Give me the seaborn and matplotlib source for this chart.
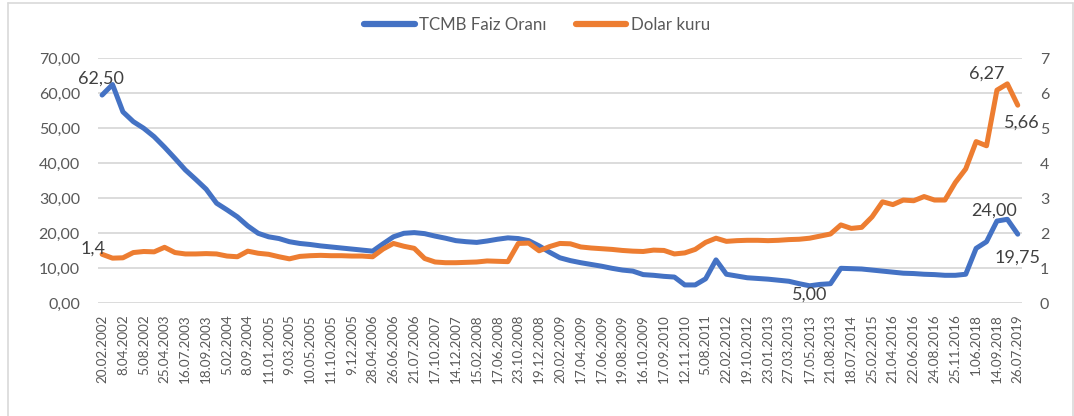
import matplotlib
matplotlib.use("Agg")
import matplotlib.pyplot as plt
from matplotlib.lines import Line2D
from matplotlib.ticker import FuncFormatter
import seaborn as sns

# values, one per rate decision (labels on every 2nd point)
faiz = [59.5, 62.5, 54.7, 51.9, 50.0, 47.6, 44.6, 41.4, 38.1, 35.4,
        32.6, 28.6, 26.7, 24.7, 22.1, 20.0, 19.0, 18.5, 17.6, 17.1,
        16.8, 16.4, 16.1, 15.8, 15.5, 15.2, 14.9, 17.0, 19.0, 20.0,
        20.2, 19.9, 19.2, 18.6, 17.9, 17.6, 17.4, 17.8, 18.3, 18.7,
        18.5, 17.9, 16.4, 14.6, 13.0, 12.2, 11.6, 11.1, 10.6, 10.0,
        9.5, 9.2, 8.2, 8.0, 7.7, 7.5, 5.25, 5.25, 7.0, 12.4,
        8.3, 7.8, 7.3, 7.1, 6.9, 6.6, 6.3, 5.6, 5.0, 5.4,
        5.6, 10.0, 9.9, 9.8, 9.5, 9.2, 8.9, 8.6, 8.5, 8.3,
        8.2, 8.0, 8.0, 8.3, 15.7, 17.6, 23.5, 24.0, 19.75]

dolar = [1.40, 1.29, 1.30, 1.45, 1.48, 1.47, 1.60, 1.45, 1.41, 1.41,
         1.42, 1.41, 1.35, 1.33, 1.49, 1.43, 1.40, 1.33, 1.27, 1.34,
         1.36, 1.37, 1.36, 1.36, 1.35, 1.35, 1.33, 1.55, 1.71, 1.63,
         1.57, 1.28, 1.18, 1.16, 1.16, 1.17, 1.18, 1.21, 1.20, 1.19,
         1.71, 1.72, 1.50, 1.62, 1.71, 1.70, 1.61, 1.58, 1.56, 1.54,
         1.51, 1.49, 1.48, 1.52, 1.51, 1.41, 1.44, 1.54, 1.74, 1.86,
         1.77, 1.79, 1.80, 1.80, 1.79, 1.80, 1.82, 1.83, 1.86, 1.92,
         1.98, 2.24, 2.14, 2.17, 2.47, 2.90, 2.82, 2.95, 2.93, 3.05,
         2.95, 2.95, 3.45, 3.84, 4.62, 4.50, 6.09, 6.27, 5.66]

tarihler = ["20.02.2002", "8.04.2002", "5.08.2002", "25.04.2003", "16.07.2003",
            "18.09.2003", "5.02.2004", "8.09.2004", "11.01.2005", "9.03.2005",
            "10.05.2005", "11.10.2005", "9.12.2005", "28.04.2006", "26.06.2006",
            "21.07.2006", "17.10.2007", "14.12.2007", "15.02.2008", "17.06.2008",
            "23.10.2008", "19.12.2008", "20.02.2009", "17.04.2009", "17.06.2009",
            "19.08.2009", "16.10.2009", "17.09.2010", "12.11.2010", "5.08.2011",
            "22.02.2012", "19.10.2012", "23.01.2013", "27.03.2013", "17.05.2013",
            "21.08.2013", "18.07.2014", "25.02.2015", "21.04.2016", "22.06.2016",
            "24.08.2016", "25.11.2016", "1.06.2018", "14.09.2018", "26.07.2019"]

idx = list(range(len(faiz)))

sns.set_theme(style="white")
plt.rcParams["font.family"] = ["Lato", "DejaVu Sans"]

blue = "#4472C4"
orange = "#ED7D31"
grey = "#595959"

fig = plt.figure(figsize=(10.74, 4.16), dpi=100)
ax = fig.add_axes([0.0912, 0.2709, 0.8603, 0.589])
ax2 = ax.twinx()

sns.lineplot(x=idx, y=faiz, ax=ax, color=blue, linewidth=3.6, legend=False,
             solid_capstyle="round", solid_joinstyle="round")
sns.lineplot(x=idx, y=dolar, ax=ax2, color=orange, linewidth=3.6, legend=False,
             solid_capstyle="round", solid_joinstyle="round")

ax.set_xlim(-0.4, len(faiz) - 0.6)
ax.set_ylim(0, 70)
ax2.set_ylim(0, 7)
ax.set_yticks(range(0, 71, 10))
ax2.set_yticks(range(0, 8))
ax.yaxis.set_major_formatter(FuncFormatter(lambda v, p: f"{v:.2f}".replace(".", ",")))
ax.set_xticks(idx[::2])
ax.set_xticklabels(tarihler)
ax.set_xlabel("")
ax.set_ylabel("")
ax2.set_ylabel("")

ax.yaxis.grid(True, color="#D9D9D9", linewidth=1.3)
ax.xaxis.grid(False)
ax2.grid(False)
for a in (ax, ax2):
    for s in a.spines.values():
        s.set_visible(False)
ax.tick_params(axis="y", length=0, pad=13, labelsize=11.5, labelcolor=grey)
ax2.tick_params(axis="y", length=0, pad=13, labelsize=11.5, labelcolor=grey)
ax.tick_params(axis="x", length=0, pad=8, labelsize=9.7, labelcolor=grey, rotation=90)

# data labels
lbl = dict(textcoords="offset points", ha="center", va="center",
           fontsize=13, color="#404040")
ax.annotate("62,50", (1, 62.5), xytext=(-8.6, 4.3), **lbl)
ax2.annotate("1,4", (0, 1.40), xytext=(-6.8, 4.3), **lbl)
ax.annotate("5,00", (68, 5.0), xytext=(0, -6.5), **lbl)
ax.annotate("24,00", (87, 24.0), xytext=(-9.4, 6.1), **lbl)
ax.annotate("19,75", (88, 19.75), xytext=(0, -16.6), **lbl)
ax2.annotate("6,27", (87, 6.27), xytext=(-15.1, 7.2), **lbl)
ax2.annotate("5,66", (88, 5.66), xytext=(3.2, -12.2), **lbl)

handles = [Line2D([], [], color=blue, linewidth=4.5, solid_capstyle="round"),
           Line2D([], [], color=orange, linewidth=4.5, solid_capstyle="round")]
fig.legend(handles, ["TCMB Faiz Oranı", "Dolar kuru"], loc="center",
           bbox_to_anchor=(0.5, 1 - 25 / 416), ncol=2, frameon=False,
           fontsize=12.2, labelcolor=grey, handlelength=3.0, handletextpad=0.25,
           columnspacing=1.7)

# chart frame
W, H = 1074, 416
frame = dict(color="#D9D9D9", linewidth=1.2, transform=fig.transFigure)
fig.add_artist(Line2D([8 / W, 8 / W], [0, 1 - 3 / H], **frame))
fig.add_artist(Line2D([8 / W, 1 - 1 / W], [1 - 3 / H, 1 - 3 / H], **frame))
fig.add_artist(Line2D([1 - 1 / W, 1 - 1 / W], [0, 1 - 3 / H], **frame))

fig.savefig("out.png", dpi=100)
